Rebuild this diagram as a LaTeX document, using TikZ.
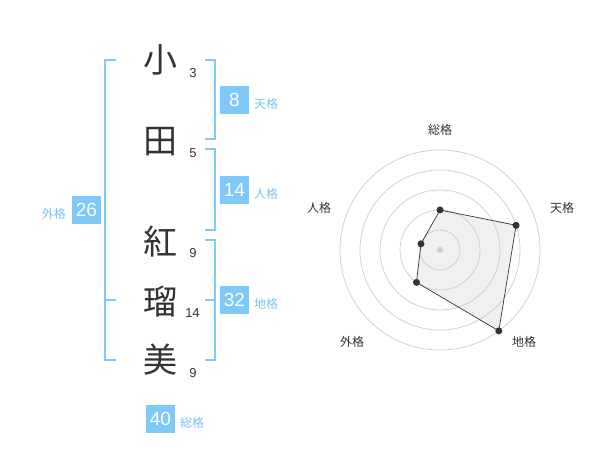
\documentclass[tikz,border=0pt]{standalone}
\usepackage{fontspec}
\usetikzlibrary{calc}
\setmainfont{Liberation Sans}
\newfontfamily\jp{Noto Sans CJK JP}
\definecolor{lblue}{RGB}{127,201,248}
\definecolor{tblue}{RGB}{120,195,240}
\definecolor{dgray}{RGB}{51,51,51}
\definecolor{cgray}{RGB}{204,204,204}
\definecolor{pfill}{RGB}{240,240,240}
\tikzset{
  kanji/.style={text=dgray,font=\jp\fontsize{34}{34}\selectfont,inner sep=0pt},
  strokes/.style={text=dgray,font=\fontsize{13}{13}\selectfont,inner sep=0pt},
  numbox/.style={fill=lblue,text=white,font=\fontsize{19}{19}\selectfont,minimum width=29pt,minimum height=28.5pt,inner sep=0pt},
  kaku/.style={text=tblue,font=\jp\fontsize{12}{12}\selectfont,inner sep=0pt},
  brack/.style={draw=lblue,line width=2pt},
  ring/.style={draw=cgray,line width=0.7pt},
  axlabel/.style={text=dgray,font=\jp\fontsize{12}{12}\selectfont,inner sep=0pt},
  dot/.style={circle,fill=dgray,minimum size=7pt,inner sep=0pt}
}
\begin{document}
\begin{tikzpicture}[x=1pt,y=-1pt]
\useasboundingbox (0,0) rectangle (600,470);
% characters
\node[kanji] (c1) at (160,60) {小};
\node[kanji] (c2) at (160,142) {田};
\node[kanji] (c3) at (160,242) {紅};
\node[kanji] (c4) at (160,302) {瑠};
\node[kanji] (c5) at (160,360) {美};
\node[strokes] (s1) at (193,73) {3};
\node[strokes] (s2) at (193,153) {5};
\node[strokes] (s3) at (193,253) {9};
\node[strokes] (s4) at (192.5,313) {14};
\node[strokes] (s5) at (193,373) {9};
% brackets
\draw[brack] (116,60) -- (105,60) -- (105,360) -- (116,360);
\draw[brack] (105,300) -- (116,300);
\draw[brack] (205,60) -- (214.5,60) -- (214.5,139.5) -- (205,139.5);
\draw[brack] (205,149.5) -- (214.5,149.5) -- (214.5,230) -- (205,230);
\draw[brack] (205,240) -- (214.5,240) -- (214.5,360) -- (205,360);
\draw[brack] (205,300) -- (214.5,300);
% boxes
\node[numbox] (ten) at (234.5,100) {8};
\node[kaku,anchor=west] (tenl) at (254,104) {天格};
\node[numbox] (jin) at (234.5,190) {14};
\node[kaku,anchor=west] (jinl) at (254,194) {人格};
\node[numbox] (gai) at (86.5,210) {26};
\node[kaku,anchor=east] (gail) at (66,213.5) {外格};
\node[numbox] (chi) at (234.5,300) {32};
\node[kaku,anchor=west] (chil) at (254,304) {地格};
\node[numbox] (sou) at (160.5,419) {40};
\node[kaku,anchor=west] (soul) at (180,423) {総格};
% radar
\coordinate (ctr) at (440,250);
\coordinate (p1) at ($(ctr)+(0,-40)$);
\coordinate (p2) at ($(ctr)+({80*cos(18)},{-80*sin(18)})$);
\coordinate (p3) at ($(ctr)+({100*cos(54)},{100*sin(54)})$);
\coordinate (p4) at ($(ctr)+({-40*cos(54)},{40*sin(54)})$);
\coordinate (p5) at ($(ctr)+({-20*cos(18)},{-20*sin(18)})$);
\fill[pfill] (p1) -- (p2) -- (p3) -- (p4) -- (p5) -- cycle;
\foreach \r in {20,40,60,80,100} \draw[ring] (ctr) circle (\r);
\draw[draw=dgray,line width=0.7pt] (p1) -- (p2) -- (p3) -- (p4) -- (p5) -- cycle;
\foreach \p in {p1,p2,p3,p4,p5} \node[dot] at (\p) {};
\node[circle,fill=cgray,minimum size=6pt,inner sep=0pt] (cdot) at (ctr) {};
\node[axlabel] (a1) at (440,130) {総格};
\node[axlabel] (a2) at (562,208) {天格};
\node[axlabel] (a3) at (524,342) {地格};
\node[axlabel] (a4) at (352,342) {外格};
\node[axlabel] (a5) at (319,208) {人格};
\end{tikzpicture}
\end{document}
